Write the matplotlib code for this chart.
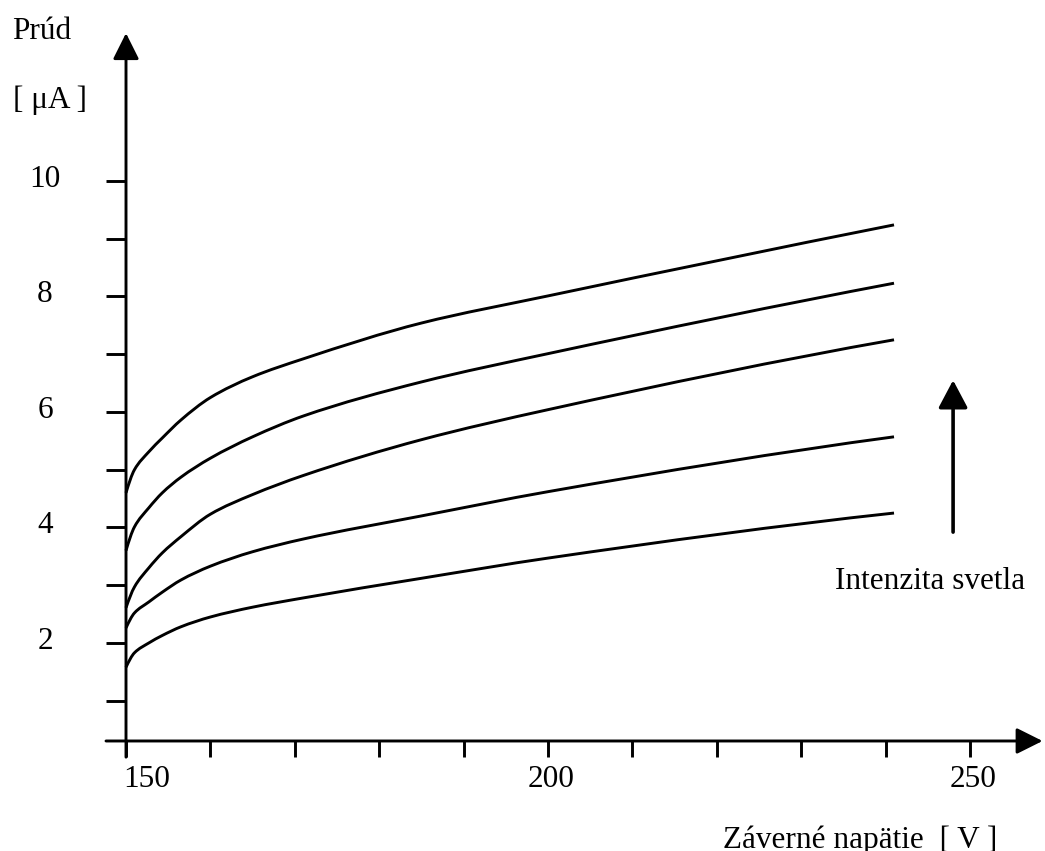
import matplotlib
matplotlib.use("Agg")
import matplotlib.pyplot as plt
from matplotlib.path import Path
from matplotlib.patches import PathPatch

plt.rcParams['font.family'] = ['Liberation Serif', 'DejaVu Serif']

# Reverse voltage [V] at which the currents were read
voltage = [150, 151, 152.7, 154.3, 156.5, 160, 165, 171, 185, 200, 241]

# Photocurrent [uA] for five light intensities (lowest to highest)
current_i1 = [1.58, 1.83, 2.00, 2.13, 2.28, 2.45, 2.62, 2.78, 3.12, 3.47, 4.25]
current_i2 = [2.26, 2.52, 2.71, 2.88, 3.09, 3.33, 3.58, 3.80, 4.20, 4.62, 5.57]
current_i3 = [2.61, 2.97, 3.30, 3.56, 3.84, 4.23, 4.57, 4.90, 5.52, 6.04, 7.25]
current_i4 = [3.60, 4.01, 4.34, 4.60, 4.87, 5.20, 5.57, 5.93, 6.52, 7.01, 8.23]
current_i5 = [4.60, 5.00, 5.31, 5.55, 5.86, 6.25, 6.61, 6.92, 7.54, 8.01, 9.24]
series = [current_i1, current_i2, current_i3, current_i4, current_i5]

x_ticks = [150, 160, 170, 180, 190, 200, 210, 220, 230, 240, 250]
x_tick_labels = {150: "150", 200: "200", 250: "250"}
y_ticks = [1, 2, 3, 4, 5, 6, 7, 8, 9, 10]
y_tick_labels = {2: "2", 4: "4", 6: "6", 8: "8", 10: "10"}

x_title = "Záverné napätie  [ V ]"
y_title = "Prúd"
y_unit = "[ μA ]"
arrow_label = "Intenzita svetla"

FS = 22.5
LW = 2.1


def pchip_slopes(x, y):
    """Shape-preserving (Fritsch-Carlson) tangents at the measured points."""
    n = len(x)
    h = [x[i + 1] - x[i] for i in range(n - 1)]
    d = [(y[i + 1] - y[i]) / h[i] for i in range(n - 1)]
    m = [0.0] * n
    for i in range(1, n - 1):
        if d[i - 1] * d[i] <= 0:
            m[i] = 0.0
        else:
            w1 = 2 * h[i] + h[i - 1]
            w2 = h[i] + 2 * h[i - 1]
            m[i] = (w1 + w2) / (w1 / d[i - 1] + w2 / d[i])

    def end_slope(h0, h1, d0, d1):
        s = ((2 * h0 + h1) * d0 - h0 * d1) / (h0 + h1)
        if s * d0 <= 0:
            return 0.0
        if d0 * d1 <= 0 and abs(s) > abs(3 * d0):
            return 3 * d0
        return s

    m[0] = end_slope(h[0], h[1], d[0], d[1])
    m[-1] = end_slope(h[-1], h[-2], d[-1], d[-2])
    return m


def smooth_path(x, y):
    """Cubic Bezier path through the points, with PCHIP tangents."""
    m = pchip_slopes(x, y)
    verts = [(x[0], y[0])]
    codes = [Path.MOVETO]
    for i in range(len(x) - 1):
        h = x[i + 1] - x[i]
        verts += [(x[i] + h / 3, y[i] + m[i] * h / 3),
                  (x[i + 1] - h / 3, y[i + 1] - m[i + 1] * h / 3),
                  (x[i + 1], y[i + 1])]
        codes += [Path.CURVE4] * 3
    return Path(verts, codes)


fig = plt.figure(figsize=(10.45, 8.51), dpi=100)
ax = fig.add_axes([0, 0, 1, 1])
ax.set_xlim(135.07, 258.89)
ax.set_ylim(-1.602, 13.134)
ax.axis('off')

x0 = 150       # position of the vertical axis
y0 = 0.303     # position of the horizontal axis
tick_len_x = 2.37   # horizontal tick length (data units along x)
tick_len_y = 0.28   # vertical tick length (data units along y)

arrow_style = '-|>,head_length=0.8,head_width=0.4'

# Axes with arrowheads
ax.annotate('', xy=(258.6, y0), xytext=(x0 - tick_len_x, y0),
            arrowprops=dict(arrowstyle=arrow_style, mutation_scale=20,
                            lw=LW, color='black', shrinkA=0, shrinkB=0))
ax.annotate('', xy=(x0, 12.56), xytext=(x0, y0 - tick_len_y),
            arrowprops=dict(arrowstyle=arrow_style, mutation_scale=20,
                            lw=LW, color='black', shrinkA=0, shrinkB=0))

# Ticks
for xt in x_ticks:
    ax.plot([xt, xt], [y0, y0 - tick_len_y], color='black', lw=LW,
            solid_capstyle='butt')
for yt in y_ticks:
    ax.plot([x0 - tick_len_x, x0], [yt, yt], color='black', lw=LW,
            solid_capstyle='butt')

# Tick labels
for yt, lab in y_tick_labels.items():
    ax.annotate(lab, xy=(140.4, yt), xytext=(0, -4.3),
                textcoords='offset points', ha='center', va='baseline',
                fontsize=FS)
for xt, lab in x_tick_labels.items():
    ha = 'left' if xt == x_ticks[0] else 'center'
    dx = -2 if xt == x_ticks[0] else 2
    ax.annotate(lab, xy=(xt, y0), xytext=(dx, -33),
                textcoords='offset points', ha=ha, va='baseline',
                fontsize=FS)

# Curves
for cur in series:
    ax.add_patch(PathPatch(smooth_path(voltage, cur), facecolor='none',
                           edgecolor='black', lw=LW, joinstyle='round'))

# Direction of increasing light intensity
ax.annotate('', xy=(248.0, 6.55), xytext=(248.0, 3.92),
            arrowprops=dict(arrowstyle='-|>,head_length=0.85,head_width=0.45',
                            mutation_scale=20, lw=2.6, color='black',
                            shrinkA=0, shrinkB=0))
fig.text(835 / 1045, 1 - 589 / 851, arrow_label, ha='left', va='baseline',
         fontsize=FS)

# Axis titles
fig.text(12 / 1045, 1 - 39 / 851, y_title, ha='left', va='baseline', fontsize=FS)
fig.text(13 / 1045, 1 - 108 / 851, y_unit, ha='left', va='baseline', fontsize=FS)
fig.text(997 / 1045, 1 - 848 / 851, x_title, ha='right', va='baseline',
         fontsize=FS)

fig.savefig("out.png", dpi=100, facecolor='white')
